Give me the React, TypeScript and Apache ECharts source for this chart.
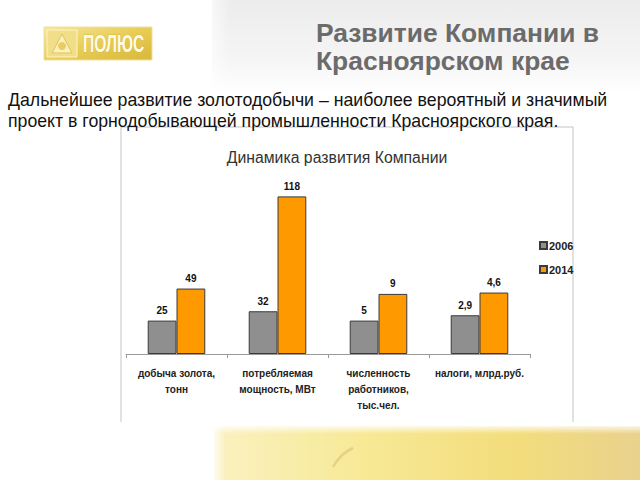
import React, { useEffect, useRef } from "react";
import * as echarts from "echarts";

const categories = [
  "добыча золота,\nтонн",
  "потребляемая\nмощность, МВт",
  "численность\nработников,\nтыс.чел.",
  "налоги, млрд.руб.",
];
const seriesNames = ["2006", "2014"];
const values2006 = [25, 32, 5, 2.9];
const values2014 = [49, 118, 9, 4.6];
// each category drawn in its own unit scale (as in the original slide)
const categoryScale = [1, 1, 5, 10];

const FONT = "'Liberation Sans', Arial, sans-serif";

function fmt(v: number): string {
  return String(v).replace(".", ",");
}

export default function App() {
  const ref = useRef<HTMLDivElement>(null);
  useEffect(() => {
    if (!ref.current) return;
    const chart = echarts.init(ref.current, null, { renderer: "svg" });
    const mk = (vals: number[]) =>
      vals.map((v, i) => ({ value: +(v * categoryScale[i]).toFixed(4), raw: v }));
    const labelCfg = (vals: number[]) => ({
      show: true,
      position: "top" as const,
      distance: 5,
      fontFamily: FONT,
      fontSize: 10,
      fontWeight: "bold" as const,
      color: "#111",
      formatter: (p: any) => fmt(vals[p.dataIndex]),
    });
    chart.setOption({
      animation: false,
      backgroundColor: "#ffffff",
      graphic: [
        // top grey panel
        {
          type: "rect",
          z: -10,
          shape: { x: 212, y: 0, width: 428, height: 92 },
          style: {
            fill: new echarts.graphic.LinearGradient(0, 0, 0, 1, [
              { offset: 0, color: "#ececec" },
              { offset: 0.65, color: "#f5f5f5" },
              { offset: 1, color: "#ffffff" },
            ]),
          },
        },
        {
          type: "rect",
          z: -9,
          shape: { x: 200, y: 0, width: 30, height: 92 },
          style: {
            fill: new echarts.graphic.LinearGradient(0, 0, 1, 0, [
              { offset: 0, color: "rgba(255,255,255,1)" },
              { offset: 1, color: "rgba(255,255,255,0)" },
            ]),
          },
        },
        // bottom yellow band
        {
          type: "rect",
          z: -10,
          shape: { x: 214, y: 426, width: 426, height: 54 },
          style: {
            fill: new echarts.graphic.LinearGradient(0, 0, 1, 0, [
              { offset: 0, color: "#faf1c0" },
              { offset: 0.35, color: "#f7e996" },
              { offset: 0.7, color: "#f3dd7c" },
              { offset: 1, color: "#e9d28c" },
            ]),
          },
        },
        {
          type: "rect",
          z: -9,
          shape: { x: 214, y: 424, width: 426, height: 10 },
          style: {
            fill: new echarts.graphic.LinearGradient(0, 0, 0, 1, [
              { offset: 0, color: "rgba(255,255,255,1)" },
              { offset: 1, color: "rgba(255,255,255,0)" },
            ]),
          },
        },
        {
          type: "rect",
          z: -9,
          shape: { x: 210, y: 426, width: 16, height: 54 },
          style: {
            fill: new echarts.graphic.LinearGradient(0, 0, 1, 0, [
              { offset: 0, color: "rgba(255,255,255,1)" },
              { offset: 1, color: "rgba(255,255,255,0)" },
            ]),
          },
        },
        {
          type: "bezierCurve",
          z: -8,
          shape: { x1: 333, y1: 467, x2: 353, y2: 448, cpx1: 338, cpy1: 458, cpx2: 346, cpy2: 451 },
          style: { stroke: "rgba(205,185,100,0.45)", lineWidth: 2.5, fill: "none" },
        },
        // logo
        {
          type: "rect",
          shape: { x: 44, y: 27, width: 108, height: 33 },
          style: {
            fill: new echarts.graphic.LinearGradient(0, 0, 1, 1, [
              { offset: 0, color: "#f6e79a" },
              { offset: 0.5, color: "#e8cc55" },
              { offset: 1, color: "#d8b83c" },
            ]),
            stroke: "#efe0a0",
            lineWidth: 1,
          },
        },
        {
          type: "rect",
          shape: { x: 47, y: 30, width: 30, height: 27 },
          style: { fill: "#f1de88", stroke: "#fff4c4", lineWidth: 1 },
        },
        {
          type: "polygon",
          shape: { points: [[52, 53], [62, 34], [72, 53]] },
          style: { fill: "#fbf0b8", stroke: "#e0c460", lineWidth: 1 },
        },
        {
          type: "circle",
          shape: { cx: 62, cy: 46, r: 4 },
          style: { fill: "#e8cd62" },
        },
        {
          type: "text",
          x: 83,
          y: 44,
          scaleX: 0.68,
          style: {
            text: "ПОЛЮС",
            font: "bold 23px " + FONT,
            fill: "#fffbe6",
            stroke: "#c9a830",
            lineWidth: 0.6,
            align: "left",
            verticalAlign: "middle",
          },
        },
        // main title
        {
          type: "text",
          x: 316,
          y: 33,
          style: {
            text: "Развитие Компании в",
            font: "bold 26.4px " + FONT,
            fill: "#6b6b6b",
            verticalAlign: "middle",
          },
        },
        {
          type: "text",
          x: 316,
          y: 61,
          style: {
            text: "Красноярском крае",
            font: "bold 26.4px " + FONT,
            fill: "#6b6b6b",
            verticalAlign: "middle",
          },
        },
        // chart frame
        {
          type: "polyline",
          z: -5,
          shape: { points: [[121, 422], [121, 127], [573, 127], [573, 422]] },
          style: { stroke: "#c4c4c4", lineWidth: 1, fill: "none" },
        },
        // subtitle paragraph
        {
          type: "text",
          x: 8,
          y: 100,
          style: {
            text: "Дальнейшее развитие золотодобычи – наиболее вероятный и значимый",
            font: "17.7px " + FONT,
            fill: "#111",
            verticalAlign: "middle",
          },
        },
        {
          type: "text",
          x: 8,
          y: 121,
          style: {
            text: "проект в горнодобывающей промышленности Красноярского края.",
            font: "17.7px " + FONT,
            fill: "#111",
            verticalAlign: "middle",
          },
        },
        // chart title
        {
          type: "text",
          x: 337,
          y: 157,
          style: {
            text: "Динамика развития Компании",
            font: "15.8px " + FONT,
            fill: "#333",
            align: "center",
            verticalAlign: "middle",
          },
        },
      ],
      legend: {
        orient: "vertical",
        left: 534,
        top: 235,
        itemWidth: 7,
        itemHeight: 7,
        itemGap: 13,
        icon: "rect",
        textStyle: { fontFamily: FONT, fontSize: 11, fontWeight: "bold", color: "#222", padding: [0, 0, 0, -3] },
        data: seriesNames,
      },
      grid: { left: 126, right: 110, top: 167, bottom: 126, containLabel: false },
      xAxis: {
        type: "category",
        data: categories,
        axisLine: { show: true, lineStyle: { color: "#999", width: 1 } },
        axisTick: { show: true, alignWithLabel: false, length: 4, lineStyle: { color: "#999" } },
        axisLabel: {
          interval: 0,
          margin: 11,
          fontFamily: FONT,
          fontSize: 10,
          fontWeight: "bold",
          color: "#222",
          lineHeight: 16,
        },
      },
      yAxis: {
        type: "value",
        min: 0,
        max: 140,
        show: false,
        splitLine: { show: false },
      },
      series: [
        {
          name: seriesNames[0],
          type: "bar",
          barGap: "0%",
          barCategoryGap: "43%",
          data: mk(values2006),
          itemStyle: { color: "#8f8f8f", borderColor: "#3a3a3a", borderWidth: 1 },
          label: labelCfg(values2006),
        },
        {
          name: seriesNames[1],
          type: "bar",
          barGap: "0%",
          barCategoryGap: "43%",
          data: mk(values2014),
          itemStyle: { color: "#ff9900", borderColor: "#3a3a3a", borderWidth: 1 },
          label: labelCfg(values2014),
        },
      ],
    });
    return () => chart.dispose();
  }, []);
  return (
    <div
      ref={ref}
      style={{ position: "fixed", left: 0, top: 0, width: 640, height: 480 }}
    />
  );
}
